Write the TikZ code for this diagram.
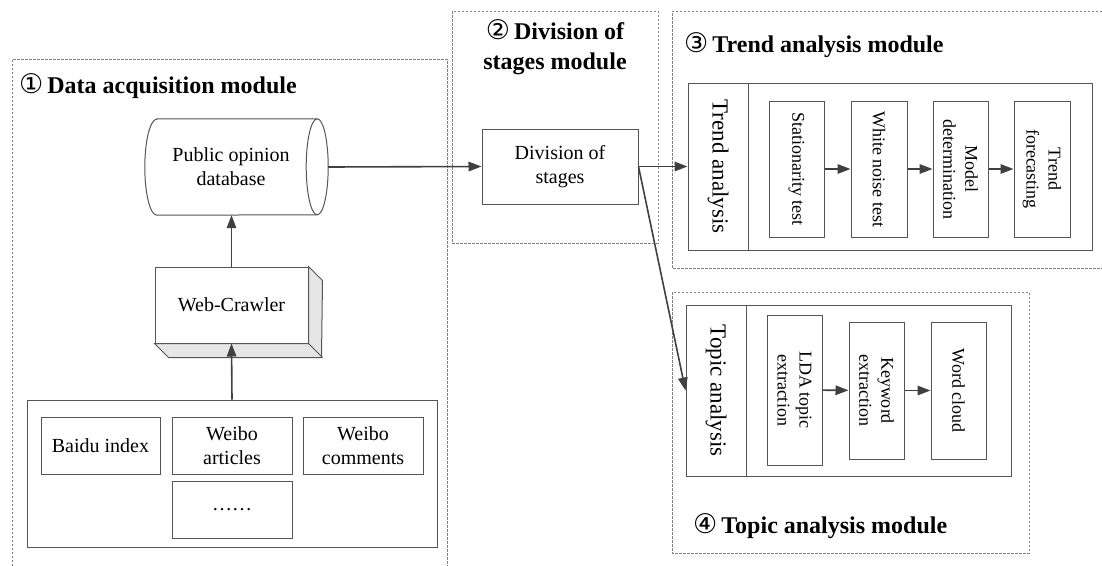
\documentclass[tikz,border=0pt]{standalone}
\usepackage{fontspec}
\setmainfont{Liberation Serif}
\newfontfamily\circfont{DejaVu Sans}
\usepackage{tikz}
\usetikzlibrary{shapes.geometric, arrows.meta, positioning}

\definecolor{boxgray}{HTML}{555555}
\definecolor{arrgray}{HTML}{404040}
\definecolor{dashgray}{HTML}{808080}
\definecolor{sidegray}{HTML}{E6E6E6}

\newcommand{\cnum}[1]{{\circfont\mdseries\fontsize{27}{30}\selectfont #1}}

\tikzset{
  box/.style={draw=boxgray, line width=1pt, fill=white, inner sep=0pt, align=center,
    font=\fontsize{20}{24}\selectfont},
  vbox/.style={box, rotate=-90, font=\fontsize{18}{22}\selectfont},
  vlabel/.style={box, rotate=-90, font=\fontsize{23}{26}\selectfont},
  modframe/.style={draw=dashgray, line width=0.8pt, dash pattern=on 2.5pt off 1.5pt},
  modtitle/.style={inner sep=0pt, align=center, font=\bfseries\fontsize{24}{30}\selectfont},
  arr/.style={draw=arrgray, line width=1.6pt, -{Triangle[length=13pt,width=9.5pt]}}
}

\begin{document}
\begin{tikzpicture}[x=1pt, y=-1pt]
\useasboundingbox (0,0) rectangle (1102,565);

% module frames
\draw[modframe] (12,570) |- (447,59) -- (447,570);
\draw[modframe] (452,11) rectangle (658,243);
\draw[modframe] (1110,11) -| (672,268) -- (1110,268);
\draw[modframe] (672,292) rectangle (1029,553);

% module titles
\node[modtitle, anchor=west] (t1) at (19,86) {\cnum{①}\,Data acquisition module};
\node[modtitle] (t2) at (555,47) {\cnum{②}\,Division of\\stages module};
\node[modtitle, anchor=west] (t3) at (684,45) {\cnum{③}\,Trend analysis module};
\node[modtitle, anchor=west] (t4) at (693,526) {\cnum{④}\,Topic analysis module};

% data acquisition
\node[minimum width=183pt, minimum height=96pt, inner sep=0pt] (db) at (236.5,167) {};
\draw[draw=boxgray, line width=1pt, fill=white] ([xshift=12pt]db.north west) -- ([xshift=-11pt]db.north east)
  arc[start angle=90, end angle=-90, x radius=11pt, y radius=48pt]
  -- ([xshift=12pt]db.south west)
  arc[start angle=270, end angle=90, x radius=12pt, y radius=48pt] -- cycle;
\draw[draw=boxgray, line width=1pt] ([xshift=-11pt]db.north east)
  arc[start angle=90, end angle=270, x radius=11pt, y radius=48pt];
\node[align=center, font=\fontsize{20}{24}\selectfont] (dbtext) at (231,167) {Public opinion\\database};

\node[box, minimum width=153pt, minimum height=76pt] (crawler) at (231.5,305) {Web-Crawler};
\draw[draw=boxgray, line width=1pt, fill=sidegray] (crawler.south west) -- ++(14,14) -- ++(153,0)
  -- ([shift={(14,14)}]crawler.north east) -- (crawler.north east) -- (crawler.south east) -- cycle;
\draw[draw=boxgray, line width=1pt] (crawler.south east) -- ++(14,14);

\node[box, minimum width=410pt, minimum height=147pt] (src) at (232,473.5) {};
\node[box, minimum width=119pt, minimum height=57pt] (baidu) at (100.5,445.5) {Baidu index};
\node[box, minimum width=120pt, minimum height=57pt] (warticles) at (232,445.5) {Weibo\\articles};
\node[box, minimum width=120pt, minimum height=57pt] (wcomments) at (363,445.5) {Weibo\\comments};
\node[box, minimum width=120pt, minimum height=57pt] (more) at (232,509.5) {……};

\draw[arr] (src.north) -- (crawler.south);
\draw[arr] (crawler.north) -- (crawler.north |- db.south);

% division of stages
\node[box, minimum width=156pt, minimum height=75pt] (div) at (560,166.5) {Division of\\stages};
\draw[arr] (db.east) -- (div.west);

% trend analysis
\node[vlabel, minimum width=167pt, minimum height=60pt] (trend) at (718,166.5) {Trend analysis};
\node[box, minimum width=344pt, minimum height=167pt] (tbox) at (920,166.5) {};
\node[vbox, minimum width=136pt, minimum height=55pt] (stat) at (796.5,169) {Stationarity test};
\node[vbox, minimum width=136pt, minimum height=56pt] (noise) at (879,169) {White noise test};
\node[vbox, minimum width=136pt, minimum height=55pt] (model) at (960.5,169) {Model\\determination};
\node[vbox, minimum width=136pt, minimum height=56pt] (fcast) at (1042,169) {Trend\\forecasting};
\draw[arr] (div) -- (trend);
\draw[arr] (stat) -- (noise);
\draw[arr] (noise) -- (model);
\draw[arr] (model) -- (fcast);

% topic analysis
\node[vlabel, minimum width=171pt, minimum height=60pt] (topic) at (716,390.5) {Topic analysis};
\node[box, minimum width=265pt, minimum height=171pt] (pbox) at (878.5,390.5) {};
\node[vbox, minimum width=150pt, minimum height=55pt] (lda) at (794.5,390) {LDA topic\\extraction};
\node[vbox, minimum width=137pt, minimum height=55pt] (kword) at (876.5,390.5) {Keyword\\extraction};
\node[vbox, minimum width=137pt, minimum height=55pt] (cloud) at (958.5,390.5) {Word cloud};
\draw[arr] (div.east) -- (topic.south);
\draw[arr] (lda) -- (kword);
\draw[arr] (kword) -- (cloud);
\end{tikzpicture}
\end{document}
